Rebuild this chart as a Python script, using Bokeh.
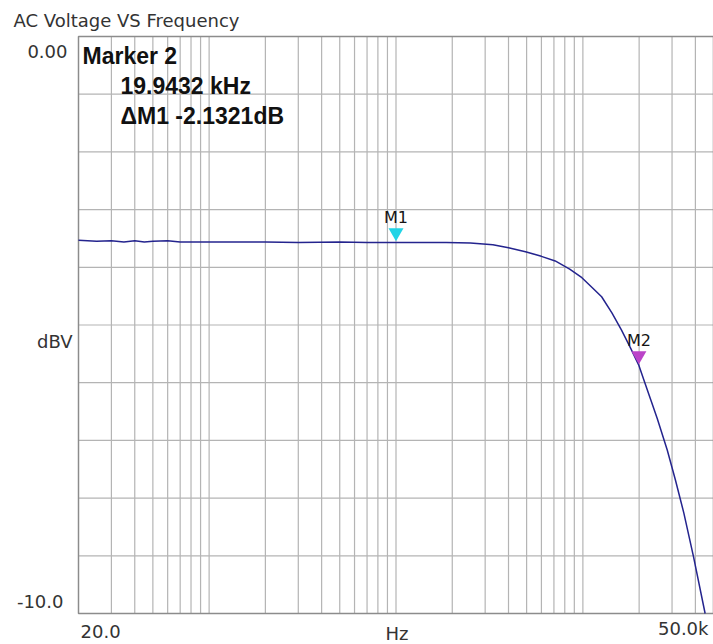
import math
from bokeh.plotting import figure
from bokeh.models import Label, Range1d
from bokeh.embed import file_html
from bokeh.resources import INLINE

# ---------------- data ----------------
freq_hz = [20, 25, 30, 35, 40, 45, 50, 60, 70, 100, 150, 200, 300, 500, 700,
           1000, 1500, 1860, 2500, 3300, 4000, 4930, 6000, 7110, 8500, 9880,
           11200, 12600, 14300, 16100, 18000, 19943, 21500, 23100, 25000,
           28300, 31300, 34700, 39100, 45100]
level_dbv = [-3.53, -3.55, -3.54, -3.56, -3.54, -3.56, -3.55, -3.54, -3.56, -3.56,
             -3.56, -3.56, -3.57, -3.56, -3.57,
             -3.57, -3.57, -3.57, -3.58, -3.61, -3.66, -3.73, -3.81, -3.89, -4.03, -4.18,
             -4.35, -4.51, -4.79, -5.09, -5.40, -5.70, -6.01, -6.30, -6.62,
             -7.17, -7.69, -8.26, -9.02, -10.00]

marker_names = ["M1", "M2"]
marker_freq_hz = [1000.0, 19943.2]
marker_level_dbv = [-3.57, -5.7021]
marker_colors = ["#22d4e6", "#bb44c8"]

x_grid_hz = [30, 40, 50, 60, 70, 80, 90,
             100, 200, 300, 400, 500, 600, 700, 800, 900,
             1000, 2000, 3000, 4000, 5000, 6000, 7000, 8000, 9000,
             10000, 20000, 30000, 40000]
y_grid_dbv = [-1, -2, -3, -4, -5, -6, -7, -8, -9]

title_text = "AC Voltage VS Frequency"
readout_lines = ["Marker 2", "19.9432 kHz", "\u0394M1 -2.1321dB"]
y_labels = ["0.00", "dBV", "-10.0"]
x_labels = ["20.0", "Hz", "50.0k"]
x_min, x_mid, x_max = 20, 1000, 50000
y_min, y_mid, y_max = -10, -5, 0

# ---------------- layout (pixels) ----------------
W, H = 713, 644
BOX_L, BOX_T, BOX_R, BOX_B = 78, 36, 713, 613

decade_px = (BOX_R - BOX_L) / math.log10(x_max / x_min)
px_per_db = (BOX_B - BOX_T) / (y_max - y_min)
x_start = x_min / 10 ** (BOX_L / decade_px)
x_end = x_max * 10 ** ((W - BOX_R) / decade_px)
y_end = y_max + BOX_T / px_per_db
y_start = y_min - (H - BOX_B) / px_per_db

p = figure(width=W, height=H, x_axis_type="log",
           x_range=Range1d(x_start, x_end), y_range=Range1d(y_start, y_end),
           output_backend="svg", toolbar_location=None,
           min_border=0, min_border_left=0, min_border_right=0,
           min_border_top=0, min_border_bottom=0)
p.xaxis.visible = False
p.yaxis.visible = False
p.xgrid.visible = False
p.ygrid.visible = False
p.background_fill_color = "white"
p.border_fill_color = "white"
p.outline_line_color = None

GRID = dict(line_color="#b4b4b4", line_width=1.2)
# vertical grid (log-spaced frequencies), spanning the chart box only
p.segment(x0=x_grid_hz, x1=x_grid_hz,
          y0=[y_min] * len(x_grid_hz), y1=[y_max] * len(x_grid_hz), **GRID)
# horizontal grid (every 1 dB)
p.segment(x0=[x_min] * len(y_grid_dbv), x1=[x_max] * len(y_grid_dbv),
          y0=y_grid_dbv, y1=y_grid_dbv, **GRID)
# chart box
p.quad(left=[x_min], right=[x_max], bottom=[y_min], top=[y_max],
       fill_color=None, line_color="#8c8c8c", line_width=1.5)

p.line(freq_hz, level_dbv, line_color="#24248e", line_width=1.5)

tri_lift = 10 / px_per_db
p.scatter(marker_freq_hz, [v + tri_lift for v in marker_level_dbv],
          marker="inverted_triangle", size=15,
          fill_color=marker_colors, line_color=None)

for name, f, v in zip(marker_names, marker_freq_hz, marker_level_dbv):
    p.add_layout(Label(x=f, y=v, text=name, x_offset=0, y_offset=25,
                       text_align="center", text_baseline="middle",
                       text_font="DejaVu Sans", text_font_size="16px",
                       text_color="#151515"))

AX = dict(text_font="DejaVu Sans", text_font_size="18px", text_color="#333333",
          text_baseline="middle")

p.add_layout(Label(x=x_min, y=y_max, text=title_text, x_offset=-65, y_offset=16,
                   text_align="left", **AX))

p.add_layout(Label(x=x_min, y=y_max, text=y_labels[0], x_offset=-11, y_offset=-15,
                   text_align="right", **AX))
p.add_layout(Label(x=x_min, y=y_mid, text=y_labels[1], x_offset=-6, y_offset=-16,
                   text_align="right", **AX))
p.add_layout(Label(x=x_min, y=y_min, text=y_labels[2], x_offset=-15, y_offset=12,
                   text_align="right", **AX))

p.add_layout(Label(x=x_min, y=y_min, text=x_labels[0], x_offset=2, y_offset=-18,
                   text_align="left", **AX))
p.add_layout(Label(x=x_mid, y=y_min, text=x_labels[1], x_offset=1, y_offset=-19.5,
                   text_align="center", **AX))
p.add_layout(Label(x=x_max, y=y_min, text=x_labels[2], x_offset=-5, y_offset=-14.5,
                   text_align="right", **AX))

RD = dict(text_font="Liberation Sans", text_font_style="bold", text_font_size="23px",
          text_color="#111111", text_baseline="middle", text_align="left")
p.add_layout(Label(x=x_min, y=y_max, text=readout_lines[0], x_offset=4, y_offset=-19, **RD))
p.add_layout(Label(x=x_min, y=y_max, text=readout_lines[1], x_offset=42, y_offset=-49, **RD))
p.add_layout(Label(x=x_min, y=y_max, text=readout_lines[2], x_offset=42, y_offset=-79, **RD))

open("out.html", "w").write(file_html(p, INLINE))
